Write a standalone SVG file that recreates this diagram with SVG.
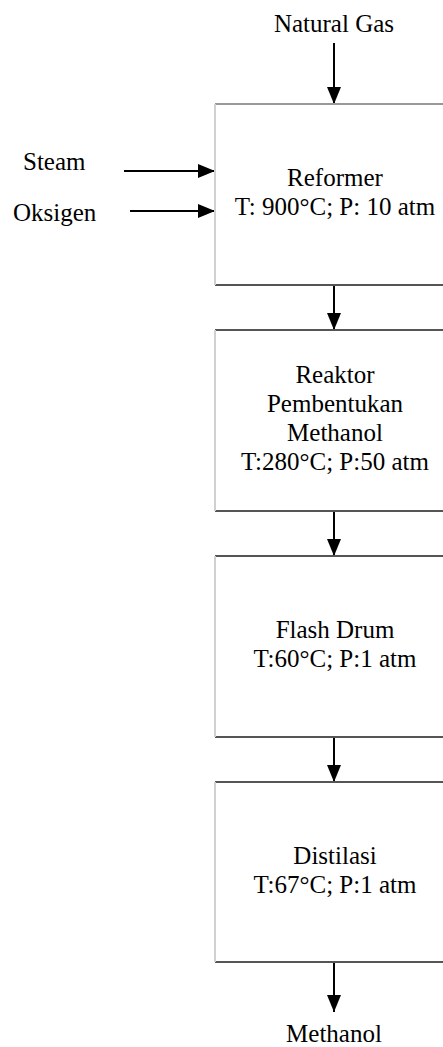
<svg xmlns="http://www.w3.org/2000/svg" width="443" height="1047" viewBox="0 0 443 1047">
<style>
text{font-family:'Liberation Serif', 'Times New Roman', serif;font-size:25px;fill:#000}
.c{text-anchor:middle}
.hb{stroke:#555;stroke-width:2}
.vl{stroke:#d0d0d0;stroke-width:2}
.ar{stroke:#000;stroke-width:2;fill:none;marker-end:url(#ah)}
</style>
<defs>
<marker id="ah" viewBox="0 0 17 14" refX="17" refY="7" markerWidth="17" markerHeight="14" markerUnits="userSpaceOnUse" orient="auto">
<path d="M0,0 L17,7 L0,14 Z" fill="#000"/>
</marker>
</defs>
<rect width="443" height="1047" fill="#fff"/>
<g id="connectors">
<line class="ar" x1="334" y1="43" x2="334" y2="104"/>
<line class="ar" x1="124" y1="171" x2="215" y2="171"/>
<line class="ar" x1="130" y1="211" x2="215" y2="211"/>
<line class="ar" x1="334" y1="285" x2="334" y2="330"/>
<line class="ar" x1="334" y1="511" x2="334" y2="556"/>
<line class="ar" x1="334" y1="737" x2="334" y2="782"/>
<line class="ar" x1="334" y1="962" x2="334" y2="1012"/>
</g>
<g id="natural-gas"><text class="c" x="334" y="32">Natural Gas</text></g>
<g id="steam"><text x="23" y="170">Steam</text></g>
<g id="oksigen"><text x="13" y="221">Oksigen</text></g>
<g id="reformer">
<line x1="215" y1="104" x2="443" y2="104" stroke="#999" stroke-width="2"/>
<line class="hb" x1="215" y1="285" x2="443" y2="285"/>
<line class="vl" x1="215" y1="104" x2="215" y2="285"/>
<text class="c" x="335" y="186">Reformer</text>
<text class="c" x="335" y="215">T: 900°C; P: 10 atm</text>
</g>
<g id="reaktor">
<line class="hb" x1="215" y1="330" x2="443" y2="330"/>
<line class="hb" x1="215" y1="511" x2="443" y2="511"/>
<line class="vl" x1="215" y1="330" x2="215" y2="511"/>
<text class="c" x="335" y="383">Reaktor</text>
<text class="c" x="335" y="412">Pembentukan</text>
<text class="c" x="335" y="441">Methanol</text>
<text class="c" x="335" y="470">T:280°C; P:50 atm</text>
</g>
<g id="flash-drum">
<line class="hb" x1="215" y1="556" x2="443" y2="556"/>
<line class="hb" x1="215" y1="737" x2="443" y2="737"/>
<line class="vl" x1="215" y1="556" x2="215" y2="737"/>
<text class="c" x="335" y="638">Flash Drum</text>
<text class="c" x="335" y="667">T:60°C; P:1 atm</text>
</g>
<g id="distilasi">
<line class="hb" x1="215" y1="782" x2="443" y2="782"/>
<line class="hb" x1="215" y1="962" x2="443" y2="962"/>
<line class="vl" x1="215" y1="782" x2="215" y2="962"/>
<text class="c" x="335" y="864">Distilasi</text>
<text class="c" x="335" y="893">T:67°C; P:1 atm</text>
</g>
<g id="methanol"><text class="c" x="334" y="1042">Methanol</text></g>
</svg>
